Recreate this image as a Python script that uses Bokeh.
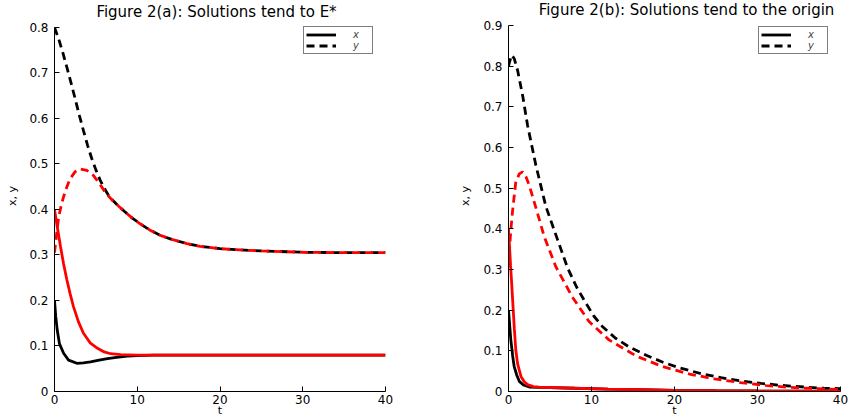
from bokeh.plotting import figure
from bokeh.layouts import row
from bokeh.models import Range1d, FixedTicker, Legend, LegendItem, Label
from bokeh.embed import file_html
from bokeh.resources import INLINE

# ---------------- Figure 2(a) data ----------------
a_title = "Figure 2(a): Solutions tend to E*"
a_x_black_t = [0, 0.15, 0.33, 0.6, 1.1, 1.7, 2.7, 3.5, 4.35, 5.4, 6.4, 7.5, 8.8, 10, 12, 15, 20, 30, 40]
a_x_black_v = [0.200, 0.165, 0.135, 0.105, 0.084, 0.069, 0.062, 0.063, 0.065, 0.069, 0.072, 0.075,
               0.078, 0.079, 0.080, 0.080, 0.080, 0.080, 0.080]
a_x_red_t = [0, 0.35, 0.73, 1.1, 1.5, 1.9, 2.3, 2.9, 3.5, 4.3, 5.2, 6.0, 6.8, 8, 10, 15, 20, 30, 40]
a_x_red_v = [0.400, 0.360, 0.318, 0.280, 0.245, 0.214, 0.186, 0.153, 0.128, 0.107, 0.095, 0.087,
             0.083, 0.081, 0.080, 0.080, 0.080, 0.080, 0.080]
a_y_black_t = [0, 0.5, 1.0, 1.5, 2.0, 2.5, 3.0, 3.5, 4.0, 4.5, 5.0, 5.5, 6.0, 6.5, 7.0, 7.7, 8.5,
               9.4, 10.4, 11.5, 12.8, 14.4, 16, 17.6, 20, 22.5, 25, 30, 35, 40]
a_y_black_v = [0.800, 0.775, 0.745, 0.712, 0.678, 0.643, 0.607, 0.573, 0.541, 0.512, 0.487, 0.465,
               0.447, 0.432, 0.421, 0.408, 0.395, 0.381, 0.368, 0.355, 0.343, 0.333, 0.325, 0.319,
               0.314, 0.311, 0.309, 0.306, 0.305, 0.305]
a_y_red_t = [0, 0.25, 0.5, 0.8, 1.1, 1.5, 1.9, 2.5, 3.1, 3.9, 4.7, 5.5, 6.2, 7.0, 7.7, 8.5, 9.4,
             10.4, 11.5, 12.8, 14.4, 16, 17.6, 20, 22.5, 25, 30, 35, 40]
a_y_red_v = [0.305, 0.345, 0.383, 0.408, 0.428, 0.450, 0.468, 0.483, 0.489, 0.486, 0.475, 0.455,
             0.436, 0.420, 0.408, 0.395, 0.381, 0.368, 0.355, 0.343, 0.333, 0.325, 0.319, 0.314,
             0.311, 0.309, 0.306, 0.305, 0.305]
a_y_ticks = [0, 0.1, 0.2, 0.3, 0.4, 0.5, 0.6, 0.7, 0.8]
a_y_tick_labels = ["0", "0.1", "0.2", "0.3", "0.4", "0.5", "0.6", "0.7", "0.8"]

# ---------------- Figure 2(b) data ----------------
b_title = "Figure 2(b): Solutions tend to the origin"
b_x_black_t = [0, 0.28, 0.5, 0.68, 1.0, 1.3, 1.8, 2.5, 3.5, 5, 8, 12, 16, 20, 25, 30, 35, 40]
b_x_black_v = [0.200, 0.127, 0.088, 0.062, 0.040, 0.025, 0.016, 0.011, 0.010, 0.0095, 0.008, 0.006,
               0.0045, 0.003, 0.002, 0.0012, 0.0007, 0.0004]
b_x_red_t = [0, 0.25, 0.5, 0.7, 0.88, 1.1, 1.5, 1.9, 2.3, 3.0, 3.7, 5, 8, 12, 16, 20, 25, 30, 35, 40]
b_x_red_v = [0.400, 0.310, 0.225, 0.155, 0.102, 0.068, 0.037, 0.024, 0.017, 0.012, 0.0105, 0.0098,
             0.008, 0.006, 0.0045, 0.003, 0.002, 0.0012, 0.0007, 0.0004]
b_y_black_t = [0, 0.15, 0.4, 0.7, 1.1, 1.7, 2.3, 3.3, 4.5, 5.9, 7.1, 8.2, 9.3, 10.3, 11.3, 12.9,
               14.5, 16.6, 18.6, 20.6, 23.2, 25.6, 28, 30.4, 32.9, 35.6, 38, 40]
b_y_black_v = [0.800, 0.812, 0.827, 0.818, 0.789, 0.728, 0.654, 0.556, 0.455, 0.374, 0.305, 0.257,
               0.218, 0.185, 0.160, 0.131, 0.110, 0.089, 0.072, 0.058, 0.044, 0.034, 0.026, 0.020,
               0.015, 0.011, 0.008, 0.007]
b_y_red_t = [0, 0.14, 0.28, 0.5, 0.88, 1.3, 1.7, 2.1, 2.5, 3.4, 4.3, 5.7, 7.7, 9.7, 12.1, 15.4,
             18.6, 21.8, 24.8, 28, 31, 34, 37, 40]
b_y_red_v = [0.305, 0.355, 0.397, 0.446, 0.515, 0.535, 0.540, 0.528, 0.507, 0.445, 0.381, 0.307,
             0.232, 0.172, 0.127, 0.087, 0.061, 0.043, 0.031, 0.022, 0.015, 0.010, 0.007, 0.005]
b_y_ticks = [0, 0.1, 0.2, 0.3, 0.4, 0.5, 0.6, 0.7, 0.8, 0.9]
b_y_tick_labels = ["0", "0.1", "0.2", "0.3", "0.4", "0.5", "0.6", "0.7", "0.8", "0.9"]

# ---------------- shared ----------------
x_ticks = [0, 10, 20, 30, 40]
x_tick_labels = ["0", "10", "20", "30", "40"]
x_label = "t"
y_label = "x, y"
legend_labels = ["x", "y"]

FONT = "DejaVu Sans"
DASH = "8 5"
LW = 2.8
H = 419


def make_panel(title, ymax, yticks, ylabels, xb, xr, yb, yr, width,
               bl, br, axis_top_px, bb, ylab_standoff, legend_loc, title_x, title_y):
    frame_h = H - bb
    # extend the range above the axis so that the title can sit inside the frame
    ytop = ymax * frame_h / (frame_h - axis_top_px)
    p = figure(width=width, height=H, output_backend="svg", toolbar_location=None,
               x_range=Range1d(0, 40), y_range=Range1d(0, ytop),
               min_border_left=bl, min_border_right=br, min_border_top=0, min_border_bottom=bb)
    p.title.visible = False
    p.grid.visible = False
    p.outline_line_color = None
    p.background_fill_color = "white"
    p.border_fill_color = "white"

    for ax in (p.xaxis[0], p.yaxis[0]):
        ax.axis_line_color = "black"
        ax.axis_line_width = 1
        ax.major_tick_in = 5
        ax.major_tick_out = 0
        ax.minor_tick_line_color = None
        ax.major_tick_line_color = "black"
        ax.major_label_text_font = FONT
        ax.major_label_text_font_size = "12px"
        ax.major_label_text_color = "black"
        ax.axis_label_text_font = FONT
        ax.axis_label_text_font_style = "normal"
        ax.axis_label_text_font_size = "11px"
        ax.axis_label_text_color = "black"

    p.xaxis.ticker = FixedTicker(ticks=x_ticks)
    p.xaxis.major_label_overrides = dict(zip(x_ticks, x_tick_labels))
    p.xaxis.major_label_standoff = 3
    p.xaxis.axis_label = x_label
    p.xaxis.axis_label_standoff = -3
    p.yaxis.ticker = FixedTicker(ticks=yticks)
    p.yaxis.major_label_overrides = dict(zip(yticks, ylabels))
    p.yaxis.major_label_standoff = 6
    p.yaxis.axis_label = y_label
    p.yaxis.axis_label_standoff = ylab_standoff
    p.yaxis.bounds = (0, ymax)

    p.add_layout(Label(x=title_x, y=frame_h - title_y, x_units="screen", y_units="screen",
                       text=title, text_align="center", text_baseline="middle",
                       text_font=FONT, text_font_size="15px", text_color="black"))

    r_xb = p.line(xb[0], xb[1], line_color="black", line_width=LW)
    r_yb = p.line(yb[0], yb[1], line_color="black", line_width=LW, line_dash=DASH)
    p.line(xr[0], xr[1], line_color="red", line_width=LW)
    p.line(yr[0], yr[1], line_color="red", line_width=LW, line_dash=DASH)

    legend = Legend(items=[LegendItem(label=legend_labels[0], renderers=[r_xb]),
                           LegendItem(label=legend_labels[1], renderers=[r_yb])],
                    location=legend_loc)
    legend.label_text_font = FONT
    legend.label_text_font_style = "italic"
    legend.label_text_font_size = "10px"
    legend.label_height = 11
    legend.glyph_height = 11
    legend.glyph_width = 30
    legend.label_standoff = 17
    legend.label_width = 17
    legend.padding = 2
    legend.spacing = 0
    legend.margin = 0
    legend.border_line_color = "black"
    legend.border_line_width = 1
    legend.background_fill_alpha = 1
    p.add_layout(legend)
    return p


p1 = make_panel(a_title, 0.8, a_y_ticks, a_y_tick_labels,
                (a_x_black_t, a_x_black_v), (a_x_red_t, a_x_red_v),
                (a_y_black_t, a_y_black_v), (a_y_red_t, a_y_red_v),
                width=430, bl=54, br=45, axis_top_px=27, bb=27,
                ylab_standoff=7, legend_loc=(249, 337), title_x=162, title_y=12.5)
p2 = make_panel(b_title, 0.9, b_y_ticks, b_y_tick_labels,
                (b_x_black_t, b_x_black_v), (b_x_red_t, b_x_red_v),
                (b_y_black_t, b_y_black_v), (b_y_red_t, b_y_red_v),
                width=428, bl=78, br=18, axis_top_px=25, bb=27,
                ylab_standoff=8, legend_loc=(250, 337), title_x=178, title_y=10)

layout = row(p1, p2, spacing=0)
open("out.html", "w").write(file_html(layout, INLINE))
